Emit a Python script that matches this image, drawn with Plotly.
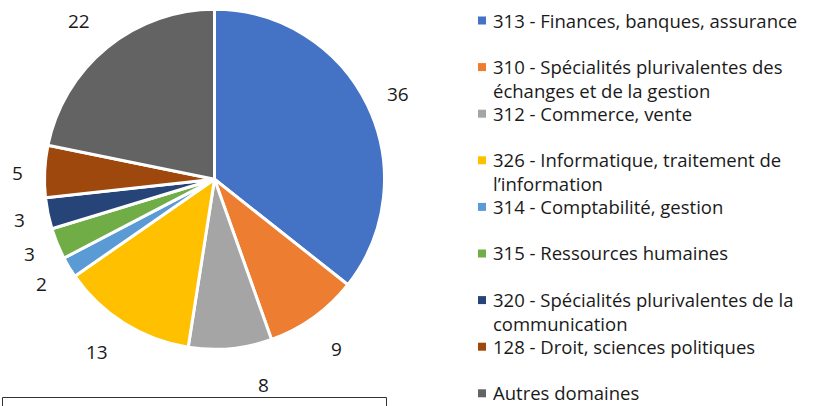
import numpy as np
import plotly.graph_objects as go

# Domaines de formation et effectifs
labels = [
    "313 - Finances, banques, assurance",
    "310 - Spécialités plurivalentes des\néchanges et de la gestion",
    "312 - Commerce, vente",
    "326 - Informatique, traitement de\nl’information",
    "314 - Comptabilité, gestion",
    "315 - Ressources humaines",
    "320 - Spécialités plurivalentes de la\ncommunication",
    "128 - Droit, sciences politiques",
    "Autres domaines",
]
values = [36, 9, 8, 13, 2, 3, 3, 5, 22]
colors = ["#4472C4", "#ED7D31", "#A5A5A5", "#FFC000", "#5B9BD5",
          "#70AD47", "#264478", "#9E480E", "#636363"]

W, H = 822, 406
FONT = "Open Sans"
TXT = "#1a1a1a"


def px(x):
    return x / W


def py(y):
    return 1 - y / H


# pie geometry in pixels
cx, cy, R = 214.5, 179.3, 170.0

fig = go.Figure(go.Pie(
    labels=[l.replace("\n", " ") for l in labels],
    values=values,
    sort=False,
    direction="clockwise",
    rotation=0,
    marker=dict(colors=colors, line=dict(color="white", width=3)),
    textinfo="none",
    showlegend=False,
    domain=dict(x=[px(cx - R), px(cx + R)], y=[py(cy + R), py(cy - R)]),
))

annotations = []
shapes = []

# value labels placed radially outside each slice
vals = np.array(values, dtype=float)
mid = (np.cumsum(vals) - vals / 2) / vals.sum() * 2 * np.pi
label_r = 202
label_dx = [2, 4, 30, -10, 0, 2, 3, 5, -8]
label_dy = [3, 6, 5, 2, 0, -2, 0, 3, -2]
for v, a, dx, dy in zip(values, mid, label_dx, label_dy):
    x = cx + label_r * np.sin(a) + dx
    y = cy - label_r * np.cos(a) + dy
    annotations.append(dict(
        x=px(x), y=py(y), xref="paper", yref="paper", text=str(v),
        showarrow=False, xanchor="center", yanchor="middle",
        font=dict(family=FONT, size=19, color=TXT)))

# legend drawn as a fixed-pitch list, wrapped lines continue below
leg_x0, leg_y0, leg_step, line_h = 482, 20.5, 46.6, 24
for i, (lab, col) in enumerate(zip(labels, colors)):
    y = leg_y0 + i * leg_step
    shapes.append(dict(type="rect", xref="paper", yref="paper",
                       x0=px(leg_x0 - 4), x1=px(leg_x0 + 4),
                       y0=py(y + 4), y1=py(y - 4),
                       fillcolor=col, line=dict(width=0)))
    for j, line in enumerate(lab.split("\n")):
        annotations.append(dict(
            x=px(leg_x0 + 10), y=py(y + j * line_h - 0.5),
            xref="paper", yref="paper",
            text=line, showarrow=False, align="left",
            xanchor="left", yanchor="middle", borderpad=0,
            font=dict(family=FONT, size=18.5, color=TXT)))

# framed box below the pie
shapes.append(dict(type="rect", xref="paper", yref="paper",
                   x0=px(2.5), x1=px(386.5), y0=py(420), y1=py(397.5),
                   line=dict(color="#333333", width=1), fillcolor="rgba(0,0,0,0)"))

fig.update_layout(
    width=W, height=H,
    margin=dict(l=0, r=0, t=0, b=0),
    paper_bgcolor="white", plot_bgcolor="white",
    annotations=annotations, shapes=shapes,
)

fig.write_html("out.html")
